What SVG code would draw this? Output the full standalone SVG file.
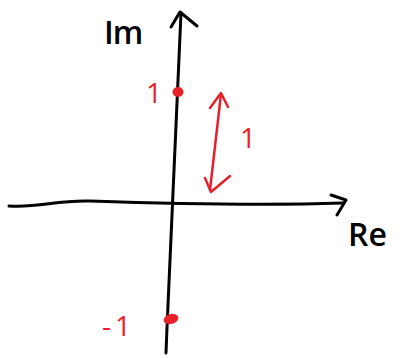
<svg xmlns="http://www.w3.org/2000/svg" width="403" height="358" viewBox="0 0 403 358">
<style>
.ax{fill:none;stroke:#000;stroke-width:3;stroke-linecap:round;stroke-linejoin:round}
.rd{fill:none;stroke:#e8202a;stroke-width:2.5;stroke-linecap:round;stroke-linejoin:round}
.lb{font-family:"Open Sans","DejaVu Sans",sans-serif;fill:#000;font-weight:600}
.rl{font-family:"Open Sans","DejaVu Sans",sans-serif;fill:#e8202a}
</style>
<rect width="403" height="358" fill="#fff"/>
<g id="connectors">
<path class="ax" d="M166,353 C170,250 174,150 181,13"/>
<path class="ax" d="M171,27 L180,12 L197,26"/>
<path class="ax" d="M9,206 C40,208 55,200 90,201 C150,203 250,206 343,203"/>
<path class="ax" d="M331,195 L346,200 L337,215"/>
<path class="rd" d="M221,94 L210,190"/>
<path class="rd" d="M210,108 L221,93 L228,107"/>
<path class="rd" d="M205,178 L211,192 L230,176"/>
</g>
<g id="dot-1">
<ellipse cx="178" cy="92" rx="5.5" ry="5" fill="#e8202a"/>
</g>
<g id="dot-m1">
<ellipse cx="171" cy="319" rx="7.5" ry="5" fill="#e8202a" transform="rotate(-15 171 319)"/>
</g>
<g id="labels">
<text class="lb" x="104" y="44" font-size="32" letter-spacing="-1">Im</text>
<text class="lb" x="348" y="246" font-size="32">Re</text>
<text class="rl" x="146" y="103" font-size="28">1</text>
<text class="rl" x="240" y="148" font-size="28">1</text>
<text class="rl" x="102" y="336" font-size="28" letter-spacing="4">-1</text>
</g>
</svg>
